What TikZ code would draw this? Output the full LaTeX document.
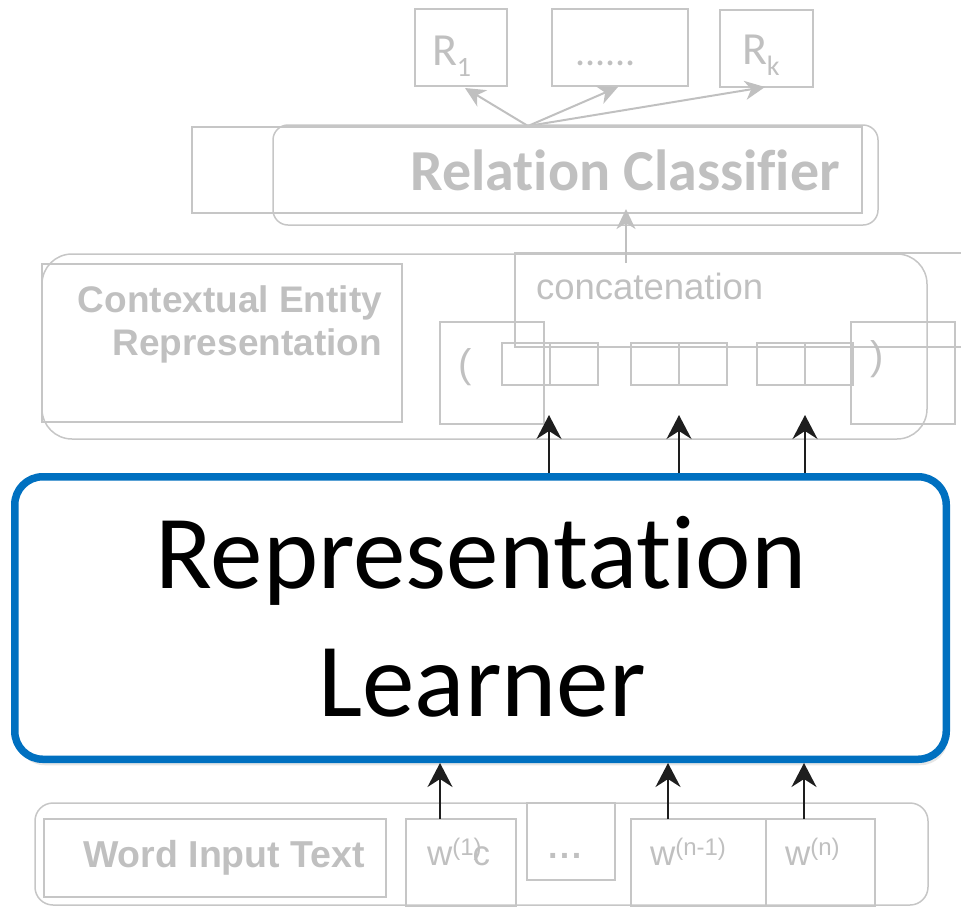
\documentclass[tikz,border=0pt]{standalone}
\usepackage{fontspec}
\setmainfont{Liberation Sans}
\newfontfamily\calib[Ligatures={NoCommon}]{Carlito}
\usetikzlibrary{arrows.meta,shadows}
\definecolor{lg}{RGB}{198,198,198}
\definecolor{lgt}{RGB}{192,192,192}
\definecolor{blu}{RGB}{0,112,192}
\definecolor{blk}{RGB}{30,30,30}
\begin{document}
\begin{tikzpicture}[x=1pt,y=-1pt,
  gbox/.style={draw=lg, line width=1.5pt, inner sep=0pt, outer sep=0pt},
  rbox/.style={gbox, rounded corners=#1},
  garrow/.style={draw=lgt, line width=2pt, -{Stealth[length=20pt,width=19pt,inset=6pt]}},
  barrow/.style={draw=blk, line width=2pt, -{Stealth[length=24pt,width=25pt,inset=8pt]}},
  gtext/.style={text=lgt, inner sep=0pt, outer sep=0pt},
  btext/.style={text=black, inner sep=0pt, outer sep=0pt}
]
\useasboundingbox (0,0) rectangle (961,908);
\clip (0,0) rectangle (961,908);

% ---------- top: relation outputs ----------
\node[gbox, minimum width=92, minimum height=77] (r1) at (461,47.5) {};
\node[gbox, minimum width=136, minimum height=77] (rdots) at (620,47.5) {};
\node[gbox, minimum width=93, minimum height=77] (rk) at (766.5,48.5) {};
\node[gtext, anchor=base west] (r1t) at (432,65) {\calib\fontsize{46}{46}\selectfont R\raisebox{-11pt}{\fontsize{28}{28}\selectfont 1}};
\node[gtext, anchor=base west] (rdt) at (575,65) {\calib\fontsize{40}{40}\selectfont ......};
\node[gtext, anchor=base west] (rkt) at (742,64) {\calib\fontsize{46}{46}\selectfont R\raisebox{-11pt}{\fontsize{28}{28}\selectfont k}};

\coordinate (orig) at (528,126);
\coordinate (t1) at (465,88);
\coordinate (t2) at (618,87);
\coordinate (t3) at (765,87);
\draw[garrow] (orig) -- (t1);
\draw[garrow] (orig) -- (t2);
\draw[garrow] (orig) -- (t3);

% ---------- relation classifier ----------
\node[gbox, minimum width=670, minimum height=86] (rcplain) at (527,170) {};
\node[rbox=15pt, minimum width=605, minimum height=100] (rc) at (575.5,175) {};
\node[gtext, anchor=base] (rct) at (625,190) {\calib\bfseries\fontsize{58}{58}\selectfont Relation Classifier};

% ---------- contextual entity representation ----------
\node[rbox=30pt, minimum width=885, minimum height=185] (ctx) at (484.5,346.5) {};
\node[gbox, minimum width=360, minimum height=158] (ctxl) at (222,343) {};
\node[gtext, anchor=base east] (ctxa) at (382,312) {\bfseries\fontsize{37}{37}\selectfont Contextual Entity};
\node[gtext, anchor=base east] (ctxb) at (382,355) {\bfseries\fontsize{37}{37}\selectfont Representation};

\node[gbox, minimum width=460, minimum height=94] (catbox) at (745,300) {};
\node[gtext, anchor=base west] (catt) at (536,299) {\fontsize{36.5}{36.5}\selectfont concatenation};
\coordinate (cs) at (626,263);
\coordinate (ce) at (626,209);
\draw[garrow] (cs) -- (ce);

\node[gbox, minimum width=104, minimum height=102] (lp) at (492,373) {};
\node[gbox, minimum width=104, minimum height=102] (rp) at (903,373) {};
\node[gtext, anchor=base] (lpt) at (465,377) {\fontsize{40}{40}\selectfont (};
\node[gtext, anchor=base] (rpt) at (877,369) {\fontsize{40}{40}\selectfont )};

\node[gbox, minimum width=48, minimum height=42] (c1a) at (526,364) {};
\node[gbox, minimum width=48, minimum height=42] (c1b) at (574,364) {};
\node[gbox, minimum width=48, minimum height=42] (c2a) at (655,364) {};
\node[gbox, minimum width=48, minimum height=42] (c2b) at (703,364) {};
\node[gbox, minimum width=48, minimum height=42] (c3a) at (781,364) {};
\node[gbox, minimum width=48, minimum height=42] (c3b) at (829,364) {};

% ---------- bottom: word input ----------
\node[rbox=18pt, minimum width=893, minimum height=102] (win) at (481.5,854) {};
\node[gbox, minimum width=342, minimum height=78] (wlab) at (215,858) {};
\node[gtext, anchor=base east] (wlabt) at (365,867) {\bfseries\fontsize{37.5}{37.5}\selectfont Word Input Text};
\node[gbox, minimum width=110, minimum height=87] (w1) at (461,862.5) {};
\node[gbox, minimum width=88, minimum height=77] (wd) at (571,841.5) {};
\node[gbox, minimum width=135, minimum height=87] (wn1) at (698.5,862.5) {};
\node[gbox, minimum width=109, minimum height=87] (wn) at (820.5,862.5) {};
\node[gtext, anchor=base west] (w1t) at (427,865) {\fontsize{35}{35}\selectfont w\raisebox{10pt}{\fontsize{24}{24}\selectfont (1)}\hspace{-9pt}c};
\node[gtext, anchor=base west] (wdt) at (548,858) {\bfseries\fontsize{34}{34}\selectfont .\hspace{2.5pt}.\hspace{2.5pt}.};
\node[gtext, anchor=base west] (wn1t) at (650,865) {\fontsize{35}{35}\selectfont w\raisebox{10pt}{\fontsize{24}{24}\selectfont (n-1)}};
\node[gtext, anchor=base west] (wnt) at (785,865) {\fontsize{35}{35}\selectfont w\raisebox{10pt}{\fontsize{24}{24}\selectfont (n)}};

% ---------- representation learner ----------
\node[draw=blu, line width=7.5pt, fill=white, rounded corners=28pt,
      minimum width=931.5, minimum height=282.5, inner sep=0pt,
      drop shadow={shadow xshift=2pt, shadow yshift=-6pt, opacity=0.2}] (blue) at (480.5,618) {};
\node[btext, anchor=base] (bt1) at (481,588) {\calib\fontsize{105}{105}\selectfont Representation};
\node[btext, anchor=base] (bt2) at (482,716) {\calib\fontsize{105}{105}\selectfont Learner};

% black arrows up from learner to cells
\coordinate (u1s) at (549,473); \coordinate (u1t) at (549,415);
\coordinate (u2s) at (679,473); \coordinate (u2t) at (679,415);
\coordinate (u3s) at (805,473); \coordinate (u3t) at (805,415);
\draw[barrow] (u1s) -- (u1t);
\draw[barrow] (u2s) -- (u2t);
\draw[barrow] (u3s) -- (u3t);

% black arrows up from words to learner
\coordinate (d1s) at (440,819); \coordinate (d1t) at (440,763);
\coordinate (d2s) at (668,819); \coordinate (d2t) at (668,763);
\coordinate (d3s) at (804,819); \coordinate (d3t) at (804,763);
\draw[barrow] (d1s) -- (d1t);
\draw[barrow] (d2s) -- (d2t);
\draw[barrow] (d3s) -- (d3t);
\end{tikzpicture}
\end{document}
